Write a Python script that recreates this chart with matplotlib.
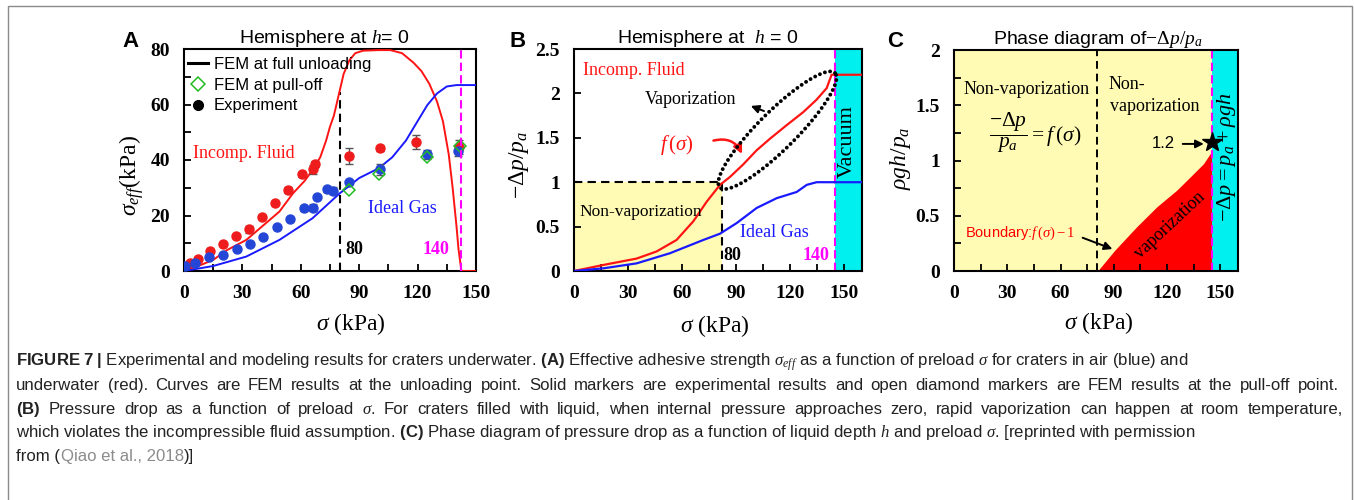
import numpy as np
import matplotlib
matplotlib.use('Agg')
import matplotlib.pyplot as plt
from matplotlib.patches import Rectangle
from matplotlib.lines import Line2D

# ---- panel A: effective adhesive strength vs preload ----
a_sig_gas = [0, 15, 32, 49, 66, 80, 90, 100, 107, 114, 120, 125, 130, 135, 140, 150]
a_gas = [0, 1.8, 5.2, 11.2, 19, 28, 33.5, 37, 41, 47, 54, 59.8, 64, 66.5, 67, 67]
a_sig_fluid = [0, 8, 15, 22, 32, 40, 49, 56, 62, 66, 70, 73, 75, 77, 78, 80, 82, 85, 88, 92,
               100, 106, 112, 118, 122, 126, 130, 133, 136, 138, 140, 141, 142.5, 150]
a_fluid = [0, 2, 4, 7.5, 11.2, 16, 21.4, 28, 32.5, 36.4, 41, 47, 52, 56, 59, 65, 71, 76, 78.5, 79.4,
           79.6, 79.6, 78.5, 75, 72, 67.5, 61, 54, 42, 30, 16, 8, 0, 0]

a_exp_sig_water = [3.1, 7.4, 13.4, 19.9, 26.5, 33.4, 39.9, 46.7, 53.3, 60.4, 66.1, 67.3, 84.8, 100.7, 119.2, 141.1]
a_exp_water = [2.8, 4.3, 7.2, 9.6, 12.7, 15.0, 19.6, 24.4, 29.2, 34.8, 36.6, 38.6, 41.4, 44.2, 46.6, 44.8]
a_err_water = [0, 0, 0, 0, 0, 1.3, 0, 0, 1.2, 1.0, 1.5, 1.0, 2.8, 0.8, 2.5, 2.5]

a_exp_sig_air = [0.5, 5.7, 12.8, 19.9, 27.1, 33.9, 40.8, 47.6, 54.5, 61.6, 66.1, 68.5, 73.3, 76.7, 84.9, 100.7, 124.7, 140.9]
a_exp_air = [1.9, 3.0, 4.9, 5.8, 7.9, 9.6, 12.4, 15.7, 18.7, 22.6, 22.8, 26.8, 29.4, 28.9, 32.1, 36.6, 42.0, 43.2]
a_err_air = [0, 0, 0, 0, 0, 0, 0, 0, 0, 0.8, 1.2, 0, 0.8, 1.2, 0.5, 2.0, 1.5, 1.8]

a_fem_sig = [84.9, 100.3, 125.0, 141.8]
a_fem = [29.2, 34.8, 41.2, 45.0]

a_vapor_sig, a_vapor_top = 80, 64.5
a_vacuum_sig = 142.3
a_yticks = [0, 20, 40, 60, 80]

# ---- panel B: pressure drop vs preload ----
b_sig_fluid = [0, 16.3, 34.8, 45.9, 57, 66.3, 73.7, 81.1, 86.7, 94, 101.5, 108.9, 118, 127.4, 134.8, 140.4, 143.1, 160]
b_fluid = [0, 0.068, 0.14, 0.22, 0.35, 0.56, 0.78, 0.97, 1.06, 1.2, 1.36, 1.49, 1.64, 1.79, 1.93, 2.06, 2.21, 2.21]
b_sig_gas = [0, 16.3, 34.8, 53.3, 71.9, 81.1, 90.4, 101.5, 112.6, 123.7, 129.3, 134.8, 144, 160]
b_gas = [0, 0.03, 0.086, 0.2, 0.35, 0.42, 0.54, 0.71, 0.82, 0.89, 0.97, 1.0, 1.0, 1.0]
b_vapor_sig, b_vapor_level = 82, 1.0
b_vacuum_sig = 145
b_yticks = [0, 0.5, 1, 1.5, 2, 2.5]

# ---- panel C: phase diagram ----
c_sig = [80.9, 90.7, 102.9, 114.2, 125.4, 133, 140.5, 145.5]
c_bound = [0, 0.19, 0.40, 0.58, 0.73, 0.85, 0.97, 1.09]
c_vapor_sig = 80.8
c_vacuum_sig = 145.5
c_star = (145.5, 1.17)
c_yticks = [0, 0.5, 1, 1.5, 2]

xticks = [0, 30, 60, 90, 120, 150]

plt.rcParams['font.family'] = ['Liberation Serif', 'DejaVu Sans']
plt.rcParams['mathtext.fontset'] = 'custom'
plt.rcParams['mathtext.rm'] = 'Liberation Serif'
plt.rcParams['mathtext.it'] = 'Liberation Serif:italic'
plt.rcParams['mathtext.bf'] = 'Liberation Sans:bold'

RED = '#ff1414'
BLUE = '#1a1aff'
MAGENTA = '#ff00ff'
YELLOW = '#fffbb4'
CYAN = '#00f0f0'
SANS = 'Liberation Sans'
W, H = 1354, 500

fig = plt.figure(figsize=(W / 100, H / 100), dpi=100)


def style_axes(ax, xmax, ymax, yticks, yminor):
    ax.set_xlim(0, xmax)
    ax.set_ylim(0, ymax)
    ax.set_xticks(xticks)
    ax.set_xticklabels([str(v) for v in xticks])
    ax.set_xticks(np.arange(0, xmax + 0.1, 15), minor=True)
    ax.set_yticks(yticks)
    ax.set_yticklabels(['{:g}'.format(v) for v in yticks])
    ax.set_yticks(np.arange(0, ymax + 1e-6, yminor), minor=True)
    ax.tick_params(which='both', direction='in', length=5, width=1.3, pad=10,
                   labelsize=14, top=False, right=False)
    for lab in ax.get_xticklabels() + ax.get_yticklabels():
        lab.set_fontweight('bold')
    for sp in ax.spines.values():
        sp.set_linewidth(1.5)


def labels(ax, xlab, xpos, ylab, ypos, title, tpos, letter, lx):
    ax.text(xpos[0], xpos[1], xlab, transform=ax.transAxes, ha='center', va='center', fontsize=17)
    ax.text(ypos[0], ypos[1], ylab, transform=ax.transAxes, ha='center', va='center',
            rotation=90, fontsize=17)
    ax.text(tpos, 1.027, title, transform=ax.transAxes, ha='center', va='baseline',
            fontsize=14, family=[SANS])
    fig.text(lx / W, 1 - 47 / H, letter, fontsize=16, fontweight='bold', family=[SANS])


# ================= A =================
axA = fig.add_axes([184 / W, 1 - 271 / H, 292 / W, 222 / H])
style_axes(axA, 150, 80, a_yticks, 10)
axA.plot(a_sig_fluid, a_fluid, color=RED, lw=1.4, zorder=3)
axA.plot(a_sig_gas, a_gas, color=BLUE, lw=1.4, zorder=3)
axA.errorbar(a_exp_sig_water, a_exp_water, yerr=a_err_water, fmt='o', ms=6.5, color='#ee1c1c',
             ecolor='#555555', elinewidth=1, capsize=3, zorder=4)
axA.errorbar(a_exp_sig_air, a_exp_air, yerr=a_err_air, fmt='o', ms=6.5, color='#2446d6',
             ecolor='#555555', elinewidth=1, capsize=3, zorder=4)
axA.plot(a_fem_sig, a_fem, ls='none', marker='D', ms=6.5, mfc='none', mec='#22bb22', mew=1.1, zorder=5)
axA.plot([a_vapor_sig, a_vapor_sig], [0, a_vapor_top], color='k', ls=(0, (4, 2.5)), lw=1.5, zorder=2)
axA.axvline(a_vacuum_sig, color=MAGENTA, ls=(0, (4, 2)), lw=1.5, zorder=6)
axA.text(4.6, 42.5, 'Incomp. Fluid', color=RED, fontsize=13, va='center')
axA.text(94.5, 22.7, 'Ideal Gas', color=BLUE, fontsize=13, va='center')
axA.text(82.7, 7.6, '80', fontsize=13, fontweight='bold', va='center')
axA.text(122.7, 7.6, '140', fontsize=13, fontweight='bold', va='center', color=MAGENTA)
handles = [Line2D([], [], color='k', lw=2.2),
           Line2D([], [], ls='none', marker='D', mfc='none', mec='#22bb22', ms=7, mew=1.1),
           Line2D([], [], ls='none', marker='o', color='k', ms=7)]
axA.legend(handles, ['FEM at full unloading', 'FEM at pull-off', 'Experiment'],
           loc='upper left', bbox_to_anchor=(-0.01, 0.995), frameon=False,
           prop={'family': SANS, 'size': 12}, handlelength=1.2, handletextpad=0.35,
           labelspacing=0.35, borderaxespad=0)
labels(axA, r'$\sigma$ (kPa)', (0.57, -0.24), r'$\sigma_{eff}$(kPa)', (-0.18, 0.43),
       r'Hemisphere at $h$= 0', 0.48, 'A', 122)

# ================= B =================
axB = fig.add_axes([574 / W, 1 - 271 / H, 288 / W, 222 / H])
style_axes(axB, 160, 2.5, b_yticks, 0.5)
axB.add_patch(Rectangle((0, 0), b_vapor_sig, b_vapor_level, color=YELLOW, lw=0, zorder=0))
axB.add_patch(Rectangle((b_vacuum_sig, 0), 160 - b_vacuum_sig, 2.5, color=CYAN, lw=0, zorder=0))
axB.plot([0, b_vapor_sig, b_vapor_sig], [b_vapor_level, b_vapor_level, 0], color='k',
         ls=(0, (4, 2.5)), lw=1.5, zorder=2)
axB.axvline(b_vacuum_sig, color=MAGENTA, ls=(0, (4, 2)), lw=1.5, zorder=2)
axB.plot(b_sig_fluid, b_fluid, color=RED, lw=1.6, zorder=3)
axB.plot(b_sig_gas, b_gas, color=BLUE, lw=1.6, zorder=3)

# dotted ellipse around the vaporization part of f(sigma), built in pixel space
p1 = axB.transData.transform((81.0, 0.94))
p2 = axB.transData.transform((145.0, 2.23))
cen = (p1 + p2) / 2
u = (p2 - p1) / np.linalg.norm(p2 - p1)
nrm = np.array([-u[1], u[0]])
half = np.linalg.norm(p2 - p1) / 2
t = np.linspace(0, 2 * np.pi, 300)
pts = cen + np.outer(half * np.cos(t), u) + np.outer(19 * np.sin(t), nrm)
ell = axB.transData.inverted().transform(pts)
axB.plot(ell[:, 0], ell[:, 1], color='k', lw=2.8, ls=(0, (0.01, 1.35)), dash_capstyle='round',
         zorder=4, clip_on=False)

axB.text(5, 2.26, 'Incomp. Fluid', color=RED, fontsize=13, va='center')
axB.text(39.4, 1.93, 'Vaporization', fontsize=13, va='center')
axB.annotate('', xy=(96.8, 1.87), xytext=(107, 1.79),
             arrowprops=dict(arrowstyle='-|>', color='k', lw=1.4, mutation_scale=12))
axB.text(47.8, 1.42, r'$f\,(\sigma)$', color=RED, fontsize=15, va='center')
axB.annotate('', xy=(94, 1.29), xytext=(76, 1.46),
             arrowprops=dict(arrowstyle='-|>', color=RED, lw=1.8, mutation_scale=13,
                             connectionstyle='arc3,rad=-0.45'))
axB.text(3.3, 0.66, 'Non-vaporization', fontsize=12.5, va='center')
axB.text(92, 0.43, 'Ideal Gas', color=BLUE, fontsize=13, va='center')
axB.text(82.8, 0.18, '80', fontsize=13, fontweight='bold', va='center')
axB.text(127, 0.18, '140', fontsize=13, fontweight='bold', va='center', color=MAGENTA)
axB.text(151.7, 1.46, 'Vacuum', fontsize=16, rotation=90, ha='center', va='center')
labels(axB, r'$\sigma$ (kPa)', (0.49, -0.25), r'$-\mathit{\Delta}p/p_a$', (-0.19, 0.48),
       r'Hemisphere at  $h$ = 0', 0.465, 'B', 510)

# ================= C =================
axC = fig.add_axes([954 / W, 1 - 271 / H, 284 / W, 221 / H])
style_axes(axC, 160, 2, c_yticks, 0.25)
axC.set_facecolor(YELLOW)
axC.fill_between(c_sig, 0, c_bound, color='#ff0000', lw=0, zorder=1)
axC.add_patch(Rectangle((c_vacuum_sig, 0), 160 - c_vacuum_sig, 2, color=CYAN, lw=0, zorder=1))
axC.axvline(c_vapor_sig, color='k', ls=(0, (4, 2.5)), lw=1.4, zorder=2)
axC.axvline(c_vacuum_sig, color=MAGENTA, ls=(0, (4, 2)), lw=1.5, zorder=2)
axC.plot(*c_star, marker='*', ms=15, color='k', zorder=5, clip_on=False)
axC.text(5.1, 1.64, 'Non-vaporization', fontsize=13, va='center')
axC.text(86.8, 1.69, 'Non-', fontsize=13, va='center')
axC.text(87.9, 1.49, 'vaporization', fontsize=13, va='center')
axC.text(45.6, 1.25, r'$\dfrac{-\mathit{\Delta}p}{p_a} = f\,(\sigma)$', fontsize=15.5, ha='center', va='center')
axC.text(6.2, 0.34, r'Boundary:$f\,(\sigma) - 1$', color='#ff0000', fontsize=10.5, va='center',
         family=[SANS])
axC.annotate('', xy=(90.7, 0.19), xytext=(71, 0.31),
             arrowprops=dict(arrowstyle='-|>', color='k', lw=1.4, mutation_scale=12))
axC.text(121.7, 0.41, 'vaporization', fontsize=13, rotation=43, ha='center', va='center')
axC.text(111.5, 1.15, '1.2', fontsize=12, va='center', family=[SANS])
axC.annotate('', xy=(142.3, 1.15), xytext=(127.3, 1.15),
             arrowprops=dict(arrowstyle='-|>', color='k', lw=1.4, mutation_scale=12))
axC.text(153.8, 1.03, r'$-\mathit{\Delta}p = p_a + \rho gh$', fontsize=16, rotation=90,
         ha='center', va='center')
labels(axC, r'$\sigma$ (kPa)', (0.51, -0.235), r'$\rho gh/p_a$', (-0.19, 0.51),
       r'Phase diagram of$-\mathit{\Delta}p/p_a$', 0.507, 'C', 887)

# ================= caption =================
cap_lines = [
    r'$\mathbf{FIGURE\ 7\ |}$ Experimental and modeling results for craters underwater. '
    r'$\mathbf{(A)}$ Effective adhesive strength $\sigma_{eff}$ as a function of preload $\sigma$ '
    r'for craters in air (blue) and',
    'underwater (red). Curves are FEM results at the unloading point. Solid markers are experimental '
    'results and open diamond markers are FEM results at the pull-off point.',
    r'$\mathbf{(B)}$ Pressure drop as a function of preload $\sigma$. For craters filled with liquid, '
    'when internal pressure approaches zero, rapid vaporization can happen at room temperature,',
    r'which violates the incompressible fluid assumption. $\mathbf{(C)}$ Phase diagram of pressure '
    r'drop as a function of liquid depth $h$ and preload $\sigma$. [reprinted with permission',
]
cap_base = [366, 390, 414, 437, 461]
cap_justify = [None, 1323, 1327, None]
CAP_COLOR = '#222222'
renderer = fig.canvas.get_renderer()
probe = fig.text(0, 0, cap_lines[0], fontsize=12, family=[SANS])
fs = 12 * 1170 / probe.get_window_extent(renderer).width
probe.remove()


def cap_text(x, yb, s, color=CAP_COLOR):
    return fig.text(x / W, 1 - yb / H, s, fontsize=fs, family=[SANS], color=color, va='baseline')


for line, yb, target in zip(cap_lines, cap_base, cap_justify):
    if target is None:
        cap_text(16, yb, line)
        continue
    words = line.split(' ')
    arts = [cap_text(16, yb, w) for w in words]
    widths = [a.get_window_extent(renderer).width for a in arts]
    gap = (target - sum(widths)) / (len(words) - 1)
    x0 = 16
    for a, wd in zip(arts, widths):
        a.set_x(x0 / W)
        x0 += wd + gap

x0 = 16
for piece, col in [('from (', CAP_COLOR), ('Qiao et al., 2018', '#8c8c8c'), (')]', CAP_COLOR)]:
    tx = cap_text(x0, cap_base[4], piece, col)
    x0 += tx.get_window_extent(renderer).width + 0.5

fig.patches.append(Rectangle((8 / W, -0.05), 1344 / W, 1.038, transform=fig.transFigure,
                             fill=False, ec='#8a8a8a', lw=1.0))

fig.savefig('out.png', dpi=100)
